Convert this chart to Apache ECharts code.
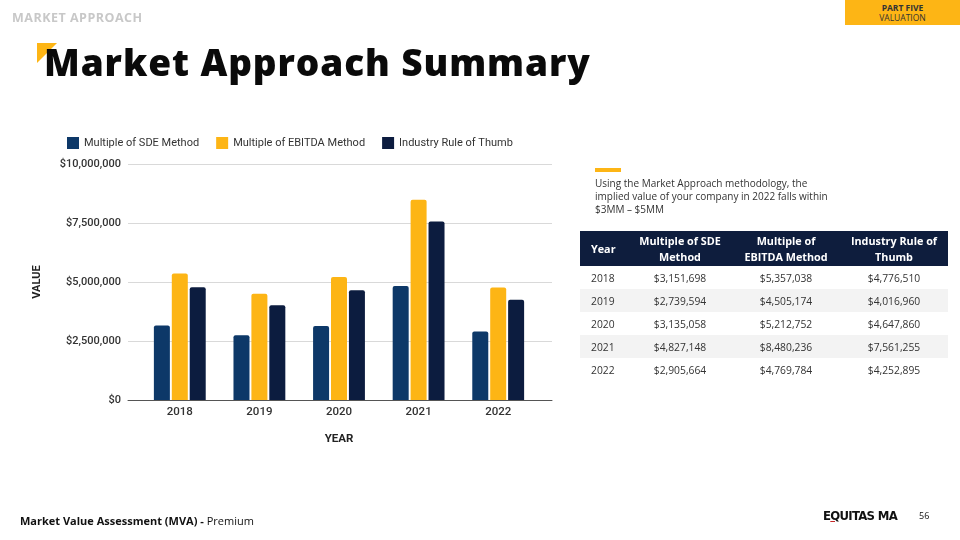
<!DOCTYPE html>
<html>
<head>
<meta charset="utf-8">
<script src="https://cdn.jsdelivr.net/npm/echarts@6/dist/echarts.min.js"></script>
<style>
  html, body { margin:0; padding:0; background:#fff; }
  #wrap { position:relative; width:960px; height:540px; overflow:hidden; font-family:"Open Sans", "Noto Sans", sans-serif; }
  #chart { position:absolute; left:0; top:0; width:960px; height:540px; }
  .abs { position:absolute; }
  #section { left:12px; top:9px; font-size:12.5px; font-weight:700; color:#c8c8c8; letter-spacing:0.5px; }
  #tab { left:845px; top:0; width:115px; height:25px; background:#fdb515; text-align:center; font-size:8.5px; line-height:10px; color:#333; padding-top:3px; box-sizing:border-box; }
  #tri { left:37px; top:43px; width:0; height:0; border-top:20px solid #fdb515; border-right:20px solid transparent; }
  #title { left:44px; top:36px; font-size:37px; font-weight:800; color:#0a0a0a; letter-spacing:0.9px; white-space:nowrap; }
  #dash { left:595px; top:168px; width:26px; height:4px; background:#fdb515; }
  #para { left:595px; top:177px; width:260px; font-size:10px; line-height:13px; color:#333; white-space:nowrap; }
  table { position:absolute; left:580px; top:231px; width:368px; border-collapse:collapse; font-size:10.3px; color:#333; }
  th { background:#0e1d3d; color:#fff; font-weight:700; font-size:10.8px; line-height:16px; height:35px; padding:0; text-align:center; }
  td { height:23px; padding:0; text-align:center; }
  tr.g td { background:#f3f3f3; }
  td.y, th.y { text-align:left; padding-left:11px; }
  #foot { left:20px; top:513px; font-size:11px; color:#111; }
  #logo { left:823px; top:508px; font-family:"Liberation Sans Narrow","DejaVu Sans Condensed",sans-serif; font-weight:700; font-size:13px; color:#111; letter-spacing:-0.7px; }
  #page { left:919px; top:509px; font-size:9px; color:#111; }
</style>
</head>
<body>
<div id="wrap">
  <div id="chart"></div>
  <div id="section" class="abs">MARKET APPROACH</div>
  <div id="tab" class="abs"><b>PART FIVE</b><br>VALUATION</div>
  <div id="tri" class="abs"></div>
  <div id="title" class="abs">Market Approach Summary</div>
  <div id="dash" class="abs"></div>
  <div id="para" class="abs">Using the Market Approach methodology, the<br>implied value of your company in 2022 falls within<br>$3MM – $5MM</div>
  <table id="tbl"></table>
  <div id="foot" class="abs"><b>Market Value Assessment (MVA) -</b> Premium</div>
  <div id="logo" class="abs">E<span style="color:#111;text-decoration:underline;text-decoration-color:#c62828">Q</span>UITAS MA</div>
  <div id="page" class="abs">56</div>
</div>
<script>
var years = ['2018', '2019', '2020', '2021', '2022'];
var sdeValues = [3151698, 2739594, 3135058, 4827148, 2905664];
var ebitdaValues = [5357038, 4505174, 5212752, 8480236, 4769784];
var thumbValues = [4776510, 4016960, 4647860, 7561255, 4252895];
var seriesNames = ['Multiple of SDE Method', 'Multiple of EBITDA Method', 'Industry Rule of Thumb'];
var tableHeaders = ['Year', 'Multiple of SDE<br>Method', 'Multiple of<br>EBITDA Method', 'Industry Rule of<br>Thumb'];
var yMin = 0, yMax = 10000000, yStep = 2500000;

function money(v) { return '$' + v.toString().replace(/\B(?=(\d{3})+(?!\d))/g, ','); }

// table
var tbl = document.getElementById('tbl');
var html = '<colgroup><col style="width:48px"><col style="width:104px"><col style="width:108px"><col style="width:108px"></colgroup>';
html += '<tr>' + tableHeaders.map(function (h, i) { return '<th' + (i === 0 ? ' class="y"' : '') + '>' + h + '</th>'; }).join('') + '</tr>';
years.forEach(function (y, i) {
  html += '<tr' + (i % 2 === 1 ? ' class="g"' : '') + '><td class="y">' + y + '</td><td>' + money(sdeValues[i]) +
    '</td><td>' + money(ebitdaValues[i]) + '</td><td>' + money(thumbValues[i]) + '</td></tr>';
});
tbl.innerHTML = html;

var chart = echarts.init(document.getElementById('chart'), null, { renderer: 'canvas' });
var colors = ['#0d3868', '#fdb515', '#0c1c3f'];
var font = 'Roboto';
chart.setOption({
  animation: false,
  color: colors,
  textStyle: { fontFamily: font },
  legend: {
    left: 62, top: 132, icon: 'rect', itemWidth: 12, itemHeight: 12, itemGap: 17, itemStyle: { borderWidth: 0 },
    textStyle: { fontFamily: font, fontSize: 11, color: '#333' },
    data: seriesNames
  },
  grid: [
    { left: 128, right: 408, top: 164, bottom: 140 },
    { left: 140, right: 422, top: 164, bottom: 140 }
  ],
  xAxis: [
    { gridIndex: 0, type: 'category', data: [''], axisLine: { lineStyle: { color: '#555', width: 1 } },
      axisTick: { show: false }, axisLabel: { show: false } },
    { gridIndex: 1, type: 'category', data: years, axisLine: { show: false }, axisTick: { show: false },
      axisLabel: { fontFamily: font, fontSize: 11.5, fontWeight: 500, color: '#333', margin: 6 },
      name: 'YEAR', nameLocation: 'middle', nameGap: 33,
      nameTextStyle: { fontFamily: font, fontSize: 11.5, fontWeight: 'bold', color: '#222' } }
  ],
  yAxis: [
    { gridIndex: 0, type: 'value', min: yMin, max: yMax, interval: yStep,
      axisLine: { show: false }, axisTick: { show: false },
      axisLabel: { fontFamily: font, fontSize: 11, fontWeight: 500, color: '#333', margin: 7, formatter: function (v) { return money(v); } },
      splitLine: { lineStyle: { color: '#d9d9d9', width: 1 } },
      name: 'VALUE', nameLocation: 'middle', nameGap: 85, nameRotate: 90,
      nameTextStyle: { fontFamily: font, fontSize: 11, fontWeight: 'bold', color: '#222' } },
    { gridIndex: 1, type: 'value', min: yMin, max: yMax, interval: yStep, show: false }
  ],
  series: [
    { name: seriesNames[0], type: 'bar', xAxisIndex: 1, yAxisIndex: 1, data: sdeValues, barWidth: 16, barGap: '12%', itemStyle: { borderRadius: [2, 2, 0, 0] } },
    { name: seriesNames[1], type: 'bar', xAxisIndex: 1, yAxisIndex: 1, data: ebitdaValues, barWidth: 16, barGap: '12%', itemStyle: { borderRadius: [2, 2, 0, 0] } },
    { name: seriesNames[2], type: 'bar', xAxisIndex: 1, yAxisIndex: 1, data: thumbValues, barWidth: 16, barGap: '12%', itemStyle: { borderRadius: [2, 2, 0, 0] } }
  ]
});
</script>
</body>
</html>
